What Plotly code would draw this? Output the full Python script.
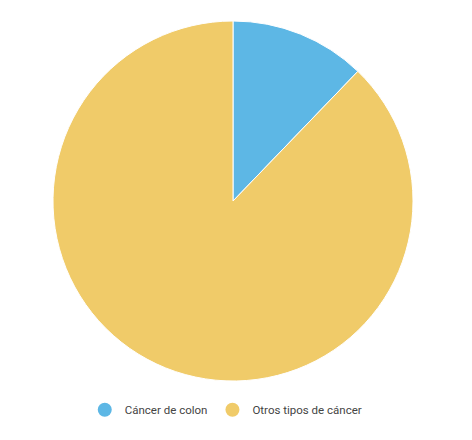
import plotly.graph_objects as go

# slice data
labels = ["Cáncer de colon", "Otros tipos de cáncer"]
values = [12.2, 87.8]
colors = ["#5db7e5", "#f0cb69"]

fig = go.Figure()
fig.add_trace(go.Pie(
    labels=labels, values=values, sort=False, direction="clockwise",
    rotation=0, textinfo="none", showlegend=False,
    marker=dict(colors=colors, line=dict(color="white", width=1)),
))

# round legend markers via hidden scatter traces
for lab, col in zip(labels, colors):
    fig.add_trace(go.Scatter(
        x=[None], y=[None], mode="markers", name=lab,
        marker=dict(symbol="circle", size=14, color=col),
    ))

# page body adds 8px, so margins are shifted to compensate
fig.update_layout(
    width=472, height=440,
    margin=dict(l=0, r=22, t=13, b=67),
    paper_bgcolor="white", plot_bgcolor="white",
    font=dict(family="Roboto", size=11.5, color="#444444"),
    xaxis=dict(visible=False), yaxis=dict(visible=False),
    legend=dict(orientation="h", x=0.485, xanchor="center",
                y=-0.08, yanchor="middle", font=dict(size=11.5)),
)

fig.write_html("out.html")
